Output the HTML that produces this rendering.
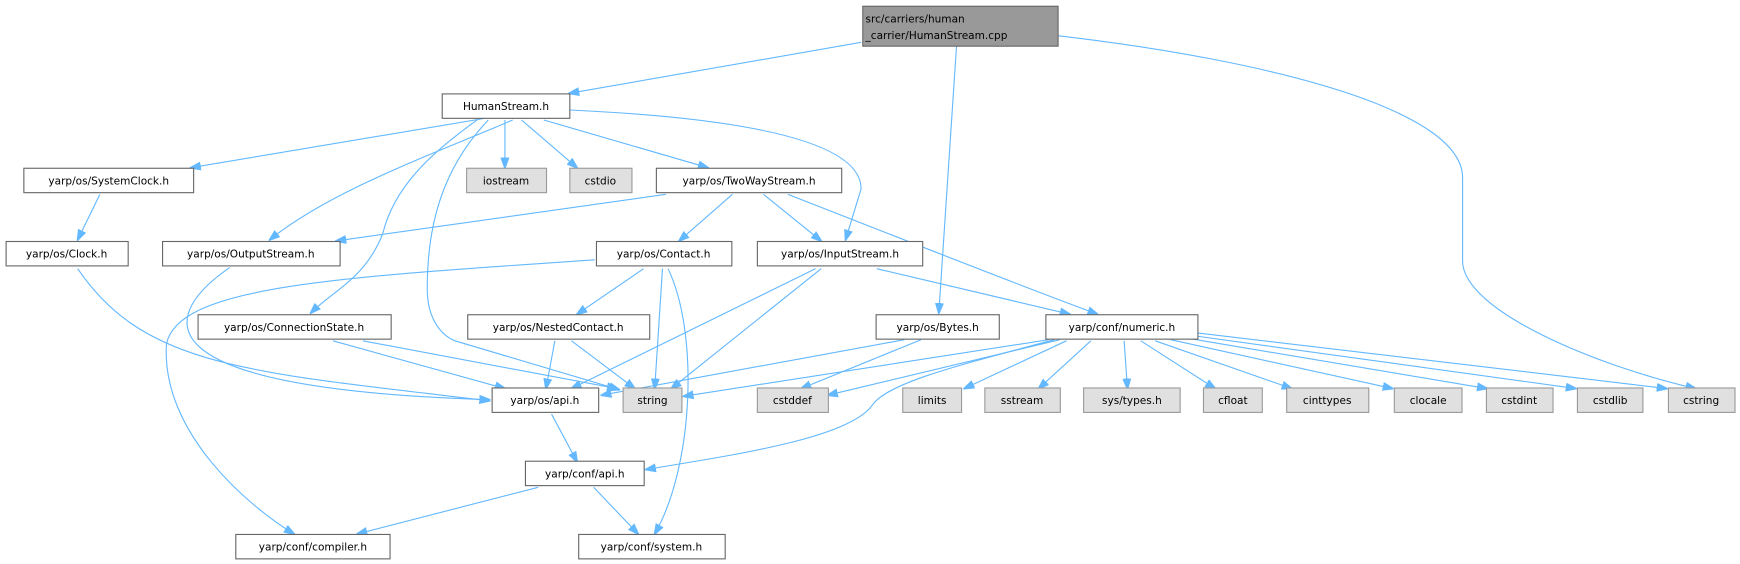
<!DOCTYPE html>
<html><head><meta charset="utf-8"><style>
html,body{margin:0;padding:0;background:#fff;}
svg{display:block;}
text{font-family:"DejaVu Sans","Liberation Sans",sans-serif;font-size:9.5px;fill:#000;}
.n rect{fill:#fff;stroke:#666;stroke-width:1;}
.g rect{fill:#e0e0e0;stroke:#999;stroke-width:1;}
.e{fill:none;stroke:#63b8ff;stroke-width:1;marker-end:url(#a);}
</style></head><body>
<svg width="1740" height="564" viewBox="0 0 1568 508" xmlns="http://www.w3.org/2000/svg">
<defs><marker id="a" markerWidth="10" markerHeight="8" refX="9" refY="4" orient="auto" markerUnits="userSpaceOnUse"><path d="M0,0.5 L10,4 L0,7.5 z" fill="#63b8ff" stroke="#63b8ff"/></marker></defs>

<path class="e" d="M776,38 L513,84"/>
<path class="e" d="M862,41 L846,282"/>
<path class="e" d="M953,32 C1150,55 1318,100 1318,160 L1318,235 C1318,280 1440,330 1528,350"/>
<path class="e" d="M440,106 L172,151"/>
<path class="e" d="M462,108 C400,135 300,170 243,216"/>
<path class="e" d="M430,108 C385,140 355,170 345,210 C330,250 300,262 280,282"/>
<path class="e" d="M440,108 C400,150 385,200 385,260 C385,290 400,303 410,307 L558,351"/>
<path class="e" d="M455,108 L455,151"/>
<path class="e" d="M470,108 L520,151"/>
<path class="e" d="M490,108 L638,151"/>
<path class="e" d="M513,99 C600,103 776,115 776,170 L762,216"/>
<path class="e" d="M90,175 L70,216"/>
<path class="e" d="M70,242 C130,330 220,335 441,361"/>
<path class="e" d="M207,241 C150,280 110,350 441,360"/>
<path class="e" d="M600,175 L303,217"/>
<path class="e" d="M660,175 L612,217"/>
<path class="e" d="M688,175 L740,217"/>
<path class="e" d="M710,175 C800,210 900,250 989,283"/>
<path class="e" d="M536,234 C300,250 160,258 150,310 C145,390 225,457 265,481"/>
<path class="e" d="M580,242 L520,283"/>
<path class="e" d="M597,242 L590,350"/>
<path class="e" d="M602,242 C630,300 625,420 590,481"/>
<path class="e" d="M735,242 L515,350"/>
<path class="e" d="M740,242 L605,350"/>
<path class="e" d="M790,242 L964,283"/>
<path class="e" d="M300,307 L455,350"/>
<path class="e" d="M327,307 L556,350"/>
<path class="e" d="M500,307 L492,350"/>
<path class="e" d="M515,307 L572,350"/>
<path class="e" d="M815,306 L542,356"/>
<path class="e" d="M830,306 L722,350"/>
<path class="e" d="M945,306 L616,357"/>
<path class="e" d="M955,306 L746,356"/>
<path class="e" d="M950,306 C860,330 800,345 786,365 C765,395 660,410 582,423"/>
<path class="e" d="M961,307 L869,350"/>
<path class="e" d="M983,307 L936,350"/>
<path class="e" d="M1013,307 L1016,350"/>
<path class="e" d="M1028,307 L1095,350"/>
<path class="e" d="M1041,307 L1164,350"/>
<path class="e" d="M1055,306 L1255,350"/>
<path class="e" d="M1072,305 L1340,350"/>
<path class="e" d="M1080,303 L1420,350"/>
<path class="e" d="M1080,300 L1502,350"/>
<path class="e" d="M497,373 L520,416"/>
<path class="e" d="M485,439 L322,481"/>
<path class="e" d="M535,439 L575,481"/>

<g><rect x="777.5" y="5.5" width="176" height="36" fill="#999" stroke="#666"/>
<text x="780" y="20">src/carriers/human</text><text x="780" y="35">_carrier/HumanStream.cpp</text></g>

<g class="n"><rect x="398.5" y="84.5" width="115" height="22"/><text x="456" y="99" text-anchor="middle">HumanStream.h</text></g>
<g class="n"><rect x="21.5" y="151.5" width="153" height="22"/><text x="98" y="166" text-anchor="middle">yarp/os/SystemClock.h</text></g>
<g class="g"><rect x="420.5" y="151.5" width="72" height="22"/><text x="456" y="166" text-anchor="middle">iostream</text></g>
<g class="g"><rect x="513.5" y="151.5" width="56" height="22"/><text x="541" y="166" text-anchor="middle">cstdio</text></g>
<g class="n"><rect x="591.5" y="151.5" width="167" height="22"/><text x="675" y="166" text-anchor="middle">yarp/os/TwoWayStream.h</text></g>

<g class="n"><rect x="5.5" y="217.5" width="110" height="22"/><text x="60" y="232" text-anchor="middle">yarp/os/Clock.h</text></g>
<g class="n"><rect x="146.5" y="217.5" width="160" height="22"/><text x="226" y="232" text-anchor="middle">yarp/os/OutputStream.h</text></g>
<g class="n"><rect x="537.5" y="217.5" width="122" height="22"/><text x="598" y="232" text-anchor="middle">yarp/os/Contact.h</text></g>
<g class="n"><rect x="682.5" y="217.5" width="149" height="22"/><text x="757" y="232" text-anchor="middle">yarp/os/InputStream.h</text></g>

<g class="n"><rect x="178.5" y="283.5" width="174" height="22"/><text x="265" y="298" text-anchor="middle">yarp/os/ConnectionState.h</text></g>
<g class="n"><rect x="421.5" y="283.5" width="164" height="22"/><text x="503" y="298" text-anchor="middle">yarp/os/NestedContact.h</text></g>
<g class="n"><rect x="789.5" y="283.5" width="111" height="22"/><text x="845" y="298" text-anchor="middle">yarp/os/Bytes.h</text></g>
<g class="n"><rect x="942.5" y="283.5" width="137" height="22"/><text x="1011" y="298" text-anchor="middle">yarp/conf/numeric.h</text></g>

<g class="n"><rect x="443.5" y="349.5" width="96" height="22"/><text x="491" y="364" text-anchor="middle">yarp/os/api.h</text></g>
<g class="g"><rect x="561.5" y="349.5" width="53" height="22"/><text x="588" y="364" text-anchor="middle">string</text></g>
<g class="g"><rect x="682.5" y="349.5" width="64" height="22"/><text x="714" y="364" text-anchor="middle">cstddef</text></g>
<g class="g"><rect x="813.5" y="349.5" width="53" height="22"/><text x="840" y="364" text-anchor="middle">limits</text></g>
<g class="g"><rect x="887.5" y="349.5" width="68" height="22"/><text x="921" y="364" text-anchor="middle">sstream</text></g>
<g class="g"><rect x="976.5" y="349.5" width="87" height="22"/><text x="1020" y="364" text-anchor="middle">sys/types.h</text></g>
<g class="g"><rect x="1084.5" y="349.5" width="53" height="22"/><text x="1111" y="364" text-anchor="middle">cfloat</text></g>
<g class="g"><rect x="1159.5" y="349.5" width="74" height="22"/><text x="1196" y="364" text-anchor="middle">cinttypes</text></g>
<g class="g"><rect x="1256.5" y="349.5" width="61" height="22"/><text x="1287" y="364" text-anchor="middle">clocale</text></g>
<g class="g"><rect x="1339.5" y="349.5" width="60" height="22"/><text x="1369" y="364" text-anchor="middle">cstdint</text></g>
<g class="g"><rect x="1421.5" y="349.5" width="59" height="22"/><text x="1451" y="364" text-anchor="middle">cstdlib</text></g>
<g class="g"><rect x="1503.5" y="349.5" width="60" height="22"/><text x="1533" y="364" text-anchor="middle">cstring</text></g>

<g class="n"><rect x="473.5" y="415.5" width="107" height="22"/><text x="527" y="430" text-anchor="middle">yarp/conf/api.h</text></g>
<g class="n"><rect x="212.5" y="481.5" width="139" height="22"/><text x="282" y="496" text-anchor="middle">yarp/conf/compiler.h</text></g>
<g class="n"><rect x="521.5" y="481.5" width="132" height="22"/><text x="587" y="496" text-anchor="middle">yarp/conf/system.h</text></g>
</svg>
</body></html>
